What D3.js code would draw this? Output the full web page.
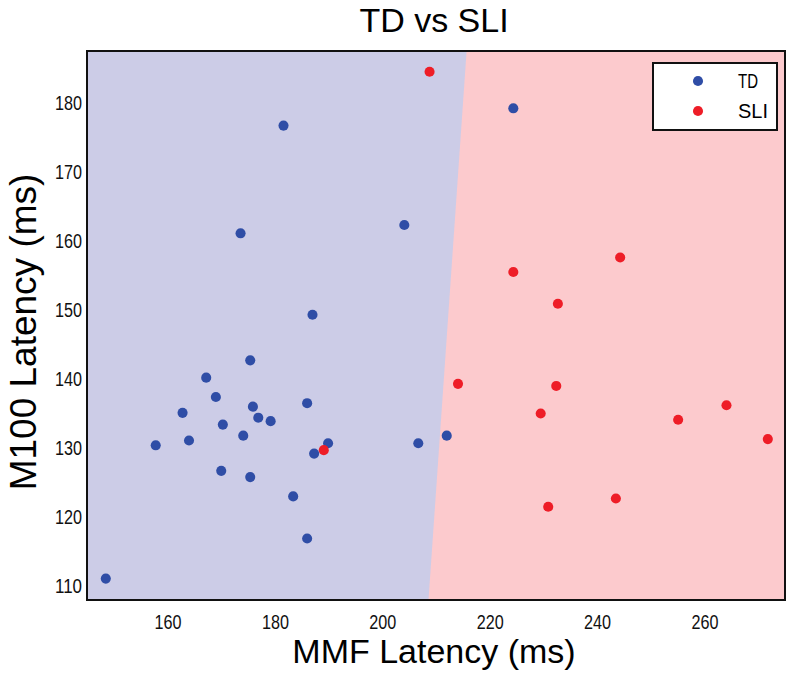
<!DOCTYPE html>
<html><head><meta charset="utf-8">
<script src="https://cdn.jsdelivr.net/npm/d3@7"></script>
<style>body{margin:0;background:#fff}svg{display:block}</style>
</head><body>
<script>
const tdX = [181.6,173.6,204.1,187.0,175.4,167.2,169.0,175.9,162.8,176.9,179.2,186.0,170.3,174.1,164.0,157.8,189.9,187.3,206.7,212.0,170.0,175.4,183.4,186.0,148.5,224.4];
const tdY = [176.7,161.1,162.3,149.3,142.7,140.2,137.4,136.0,135.1,134.4,133.9,136.5,133.4,131.8,131.1,130.4,130.7,129.2,130.7,131.8,126.7,125.8,123.0,116.9,111.1,179.2];
const sliX = [208.8,189.1,214.1,244.3,224.4,232.7,232.4,229.5,264.1,255.1,271.8,230.9,243.5];
const sliY = [184.5,129.7,139.3,157.6,155.5,150.9,139.0,135.0,136.2,134.1,131.3,121.5,122.7];
const boundaryX = [208.6, 215.7];
const boundaryY = [108, 187.5];
const xTicks = [160,180,200,220,240,260];
const yTicks = [110,120,130,140,150,160,170,180];
const seriesNames = ["TD","SLI"];
const seriesColors = ["#2f4da6","#ee1d27"];
const regionColors = ["#ccccE7","#fccacd"];

const W=794,H=677;
const m={l:87,r:9,t:51,b:77};
const svg=d3.select("body").append("svg").attr("width",W).attr("height",H);
const x=d3.scaleLinear().domain([145,275]).range([m.l,W-m.r]);
const y=d3.scaleLinear().domain([108,187.5]).range([H-m.b,m.t]);
const x0=x.range()[0],x1=x.range()[1],y0=y.range()[1],y1=y.range()[0];

// regions
const bPts=boundaryX.map((v,i)=>[x(v),y(boundaryY[i])]);
svg.append("rect").attr("x",x0).attr("y",y0).attr("width",x1-x0).attr("height",y1-y0).attr("fill",regionColors[1]);
svg.append("path").attr("d",d3.line()([[x0,y1],[x0,y0],bPts[1],bPts[0]])+"Z").attr("fill",regionColors[0]);

const td=tdX.map((v,i)=>({x:v,y:tdY[i]}));
const sli=sliX.map((v,i)=>({x:v,y:sliY[i]}));
const sym=d3.symbol().type(d3.symbolCircle).size(80);
svg.append("g").selectAll("path").data(td).join("path").attr("d",sym).attr("transform",d=>`translate(${x(d.x)},${y(d.y)})`).attr("fill",seriesColors[0]);
svg.append("g").selectAll("path").data(sli).join("path").attr("d",sym).attr("transform",d=>`translate(${x(d.x)},${y(d.y)})`).attr("fill",seriesColors[1]);

// frame
svg.append("rect").attr("x",x0).attr("y",y0).attr("width",x1-x0).attr("height",y1-y0).attr("fill","none").attr("stroke","#111").attr("stroke-width",2);

const tf="'Liberation Sans',Arial,sans-serif";
const xa=svg.append("g").attr("transform",`translate(0,${y1})`).call(d3.axisBottom(x).tickValues(xTicks).tickSize(0).tickPadding(10));
xa.select(".domain").remove();
xa.selectAll("text").attr("font-family",tf).attr("font-size",20).attr("fill","#111").attr("dy","0.95em")
  .attr("textLength",27).attr("lengthAdjust","spacingAndGlyphs");
const ya=svg.append("g").attr("transform",`translate(${x0},0)`).call(d3.axisLeft(y).tickValues(yTicks).tickSize(0).tickPadding(5));
ya.select(".domain").remove();
ya.selectAll("text").attr("font-family",tf).attr("font-size",20).attr("fill","#111")
  .attr("textLength",27).attr("lengthAdjust","spacingAndGlyphs");

svg.append("text").attr("x",434).attr("y",32).attr("text-anchor","middle").attr("font-family",tf).attr("font-size",34).text("TD vs SLI");
svg.append("text").attr("x",434).attr("y",663).attr("text-anchor","middle").attr("font-family",tf).attr("font-size",34).text("MMF Latency (ms)");
svg.append("text").attr("transform",`translate(36,332) rotate(-90)`).attr("text-anchor","middle").attr("font-family",tf).attr("font-size",37).text("M100 Latency (ms)");

// legend
const lg=svg.append("g").attr("transform","translate(653,63)");
lg.append("rect").attr("width",124).attr("height",67).attr("fill","#fff").attr("stroke","#111").attr("stroke-width",2);
seriesNames.forEach((n,i)=>{
  lg.append("path").attr("d",sym).attr("transform",`translate(45,${18+i*30})`).attr("fill",seriesColors[i]);
  lg.append("text").attr("x",85).attr("y",18+i*30).attr("dy","0.35em").attr("font-family",tf).attr("font-size",20)
    .attr("textLength",n.length*10).attr("lengthAdjust","spacingAndGlyphs").text(n);
});
</script>
</body></html>
